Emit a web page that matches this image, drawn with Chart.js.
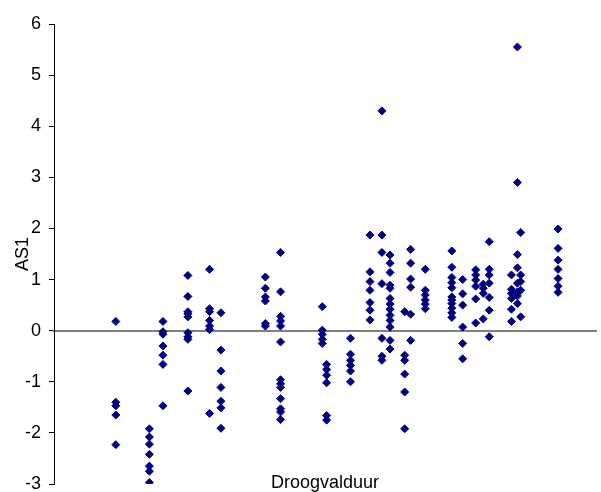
<!DOCTYPE html>
<html>
<head>
<meta charset="utf-8">
<script src="https://cdn.jsdelivr.net/npm/chart.js@4"></script>
<style>
  html, body { margin: 0; padding: 0; background: #fff; }
  #wrap { width: 601px; height: 492px; }
</style>
</head>
<body>
<div id="wrap"><canvas id="chart"></canvas></div>
<script>
// Droogvalduur per group (x) and the AS1 values measured at each
const droogvalduur = [11.4, 17.6, 20.1, 24.7, 28.7, 30.8, 39.0, 41.8, 49.5, 50.3, 54.7, 58.3, 60.5, 62.0,
  64.7, 65.8, 68.5, 73.4, 75.4, 77.8, 79.2, 80.3, 84.4, 85.5, 86.1, 93.0];
const as1 = [
  [0.18, -1.40, -1.47, -1.65, -2.23],
  [-1.92, -2.08, -2.22, -2.42, -2.65, -2.75, -2.97],
  [0.18, -0.02, -0.07, -0.30, -0.48, -0.66, -1.47],
  [1.08, 0.67, 0.37, 0.33, 0.27, -0.04, -0.12, -0.17, -1.18],
  [1.20, 0.43, 0.37, 0.20, 0.09, 0.02, -1.62],
  [0.35, -0.38, -0.79, -1.11, -1.38, -1.51, -1.91],
  [1.05, 0.83, 0.66, 0.58, 0.14, 0.09],
  [1.53, 0.76, 0.28, 0.19, 0.09, -0.22, -0.96, -1.04, -1.11, -1.33, -1.53, -1.59, -1.74],
  [0.47, 0.01, -0.07, -0.17, -0.25],
  [-0.66, -0.76, -0.87, -1.02, -1.66, -1.75],
  [-0.15, -0.46, -0.58, -0.68, -0.79, -1.00],
  [1.87, 1.15, 0.96, 0.79, 0.55, 0.40, 0.21],
  [4.30, 1.87, 1.53, 0.92, -0.15, -0.50, -0.58],
  [1.48, 1.32, 1.14, 0.89, 0.83, 0.63, 0.52, 0.42, 0.30, 0.20, 0.07, -0.19, -0.36],
  [0.37, -0.48, -0.58, -0.85, -1.20, -1.92],
  [1.59, 1.32, 1.01, 0.85, 0.32, -0.19],
  [1.20, 0.79, 0.70, 0.60, 0.52, 0.43],
  [1.56, 1.24, 1.04, 0.94, 0.84, 0.66, 0.60, 0.53, 0.44, 0.35, 0.26],
  [1.00, 0.72, 0.50, 0.07, -0.25, -0.55],
  [1.19, 1.09, 0.99, 0.87, 0.62, 0.15],
  [0.91, 0.83, 0.73, 0.23],
  [1.74, 1.20, 1.09, 0.93, 0.65, 0.40, -0.12],
  [1.09, 0.81, 0.73, 0.63, 0.42, 0.18],
  [5.55, 2.90, 1.49, 1.23, 0.93, 0.76, 0.68, 0.53],
  [1.92, 1.09, 0.96, 0.79, 0.27],
  [1.99, 1.61, 1.38, 1.20, 1.02, 0.87, 0.75]
];
const yTicks = [-3, -2, -1, 0, 1, 2, 3, 4, 5, 6];

const points = [];
droogvalduur.forEach((x, i) => {
  as1[i].forEach(y => points.push({ x: x, y: y }));
});

const font = { family: 'Liberation Sans, Arial, sans-serif', size: 18 };

// x-axis title sits at the bottom of the plot, like the original
const xTitle = {
  id: 'xTitle',
  afterDraw(c) {
    const ctx = c.ctx;
    const a = c.chartArea;
    ctx.save();
    ctx.font = '18px Liberation Sans, Arial, sans-serif';
    ctx.fillStyle = '#000';
    ctx.textAlign = 'center';
    ctx.textBaseline = 'alphabetic';
    ctx.fillText('Droogvalduur', (a.left + a.right) / 2, a.bottom + 4);
    ctx.restore();
  }
};

new Chart(document.getElementById('chart'), {
  type: 'scatter',
  data: {
    datasets: [{
      data: points,
      pointStyle: 'rectRot',
      pointRadius: 4,
      borderWidth: 1,
      backgroundColor: '#000080',
      borderColor: '#000080'
    }]
  },
  options: {
    responsive: true,
    maintainAspectRatio: false,
    animation: false,
    layout: { padding: { top: 24, bottom: 8, left: 0, right: 0 } },
    plugins: { legend: { display: false }, tooltip: { enabled: false } },
    scales: {
      x: {
        type: 'linear',
        min: 0,
        max: 100,
        position: { y: 0 },
        afterFit(s) { s.height = 0; s.paddingLeft = 0; s.paddingRight = 0; },
        ticks: { display: false },
        grid: { display: false },
        border: { display: true, color: '#808080', width: 2 }
      },
      y: {
        min: -3,
        max: 6,
        afterFit(s) { s.width = 54; s.paddingTop = 0; s.paddingBottom = 0; },
        afterBuildTicks(s) { s.ticks = yTicks.map(v => ({ value: v })); },
        ticks: { color: '#000', font: font, padding: 8 },
        grid: { drawOnChartArea: false, drawTicks: true, tickLength: 5, color: '#000' },
        border: { display: true, color: '#000', width: 1 },
        title: { display: true, text: 'AS1', color: '#000', font: font, padding: { top: 12, bottom: 0 } }
      }
    }
  },
  plugins: [xTitle]
});
</script>
</body>
</html>
